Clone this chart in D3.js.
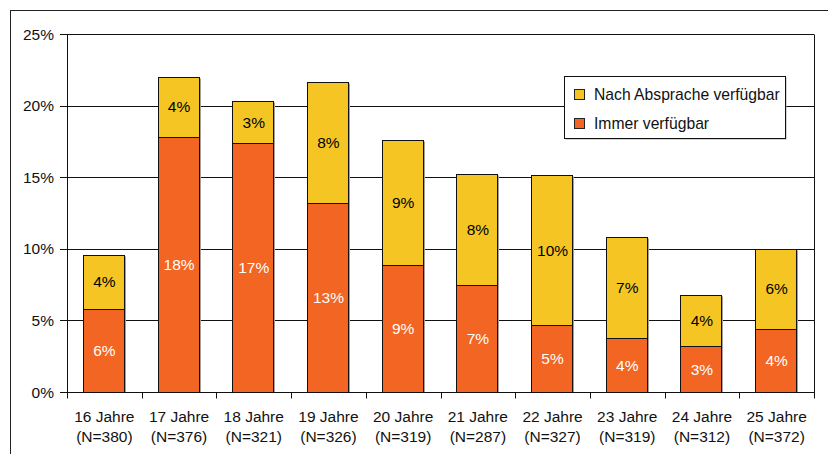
<html>
<head>
	<title>verfuegbar</title>
	<script type="text/javascript" src="https://cdnjs.cloudflare.com/ajax/libs/d3/7.8.5/d3.min.js"></script>
	<style>
		body {margin:0px; padding:0px; background:#fff; overflow:hidden;}
		svg text {font-family:"Liberation Sans", Arial, sans-serif;}
	</style>
</head>
<body>
	<svg id="chart" width="828" height="454"></svg>
	<script type="text/javascript">

		var categories = ["16 Jahre","17 Jahre","18 Jahre","19 Jahre","20 Jahre","21 Jahre","22 Jahre","23 Jahre","24 Jahre","25 Jahre"];
		var nLabels = ["(N=380)","(N=376)","(N=321)","(N=326)","(N=319)","(N=287)","(N=327)","(N=319)","(N=312)","(N=372)"];
		var immer = [5.8, 17.83, 17.37, 13.23, 8.89, 7.44, 4.66, 3.75, 3.22, 4.43];
		var nachAbsprache = [3.78, 4.2, 2.96, 8.45, 8.71, 7.76, 10.48, 7.09, 3.55, 5.59];
		var yTicks = [0, 5, 10, 15, 20, 25];
		var seriesNames = ["Nach Absprache verfügbar", "Immer verfügbar"];
		var colors = {immer:'#F26522', nach:'#F5C623'};
		var fs = 15.5;

		var svg = d3.select('#chart');

		// outer frame
		svg.append('rect').attr('x', 10.5).attr('y', 10.5).attr('width', 900).attr('height', 900)
			.attr('fill', 'none').attr('stroke', '#222').attr('stroke-width', 1);

		var plotL = 67, plotR = 814, plotT = 34, plotB = 392;

		var x = d3.scaleBand().domain(categories).range([plotL, plotR]).paddingInner(0.45).paddingOuter(0.225);
		var y = d3.scaleLinear().domain([0, 25]).range([plotB, plotT]);
		var step = x.step();

		function cy(v) {return Math.round(y(v)) + 0.5;}

		// gridlines
		svg.selectAll('line.grid').data(yTicks.filter(function(d){return d > 0}))
			.enter().append('line').attr('class', 'grid')
			.attr('x1', plotL).attr('x2', plotR)
			.attr('y1', function(d){return cy(d)}).attr('y2', function(d){return cy(d)})
			.attr('stroke', '#111').attr('stroke-width', 1);

		// right border of plot
		svg.append('line').attr('x1', plotR + 0.5).attr('x2', plotR + 0.5).attr('y1', cy(25)).attr('y2', cy(0))
			.attr('stroke', '#111');

		var data = categories.map(function(c, i) {
			return {cat:c, immer:immer[i], nach:nachAbsprache[i]};
		});

		// bar shadows
		var g = svg.append('g');
		g.selectAll('rect.shadow').data(data).enter().append('rect')
			.attr('x', function(d){return Math.round(x(d.cat)) + 1})
			.attr('y', function(d){return cy(d.immer + d.nach) + 1})
			.attr('width', Math.round(x.bandwidth()))
			.attr('height', function(d){return cy(0) - cy(d.immer + d.nach) - 1})
			.attr('fill', '#a0a0a0');

		g.selectAll('rect.immer').data(data).enter().append('rect').attr('class', 'immer')
			.attr('x', function(d){return Math.round(x(d.cat)) - 0.5})
			.attr('y', function(d){return cy(d.immer)})
			.attr('width', Math.round(x.bandwidth()))
			.attr('height', function(d){return cy(0) - cy(d.immer)})
			.attr('fill', colors.immer).attr('stroke', '#111').attr('stroke-width', 1);

		g.selectAll('rect.nach').data(data).enter().append('rect').attr('class', 'nach')
			.attr('x', function(d){return Math.round(x(d.cat)) - 0.5})
			.attr('y', function(d){return cy(d.immer + d.nach)})
			.attr('width', Math.round(x.bandwidth()))
			.attr('height', function(d){return cy(d.immer) - cy(d.immer + d.nach)})
			.attr('fill', colors.nach).attr('stroke', '#111').attr('stroke-width', 1);

		// value labels
		g.selectAll('text.immer').data(data).enter().append('text')
			.attr('x', function(d){return x(d.cat) + x.bandwidth()/2})
			.attr('y', function(d){return (y(0) + y(d.immer))/2})
			.attr('dy', '0.36em').attr('text-anchor', 'middle')
			.attr('font-size', fs).attr('fill', '#fff')
			.text(function(d){return Math.round(d.immer) + '%'});

		g.selectAll('text.nach').data(data).enter().append('text')
			.attr('x', function(d){return x(d.cat) + x.bandwidth()/2})
			.attr('y', function(d){return (y(d.immer) + y(d.immer + d.nach))/2})
			.attr('dy', '0.36em').attr('text-anchor', 'middle')
			.attr('font-size', fs).attr('fill', '#000')
			.text(function(d){return Math.round(d.nach) + '%'});

		// y axis
		svg.append('line').attr('x1', plotL + 0.5).attr('x2', plotL + 0.5).attr('y1', cy(25)).attr('y2', cy(0))
			.attr('stroke', '#111');
		svg.selectAll('line.ytick').data(yTicks).enter().append('line')
			.attr('x1', plotL - 7).attr('x2', plotL)
			.attr('y1', function(d){return cy(d)}).attr('y2', function(d){return cy(d)})
			.attr('stroke', '#111');
		svg.selectAll('text.ytick').data(yTicks).enter().append('text')
			.attr('x', 54).attr('y', function(d){return y(d)})
			.attr('dy', '0.36em').attr('text-anchor', 'end')
			.attr('font-size', fs).attr('fill', '#111')
			.text(function(d){return d + '%'});

		// x axis
		svg.append('line').attr('x1', plotL).attr('x2', plotR + 1).attr('y1', cy(0)).attr('y2', cy(0))
			.attr('stroke', '#111');
		svg.selectAll('line.xtick').data(d3.range(categories.length + 1)).enter().append('line')
			.attr('x1', function(d){return Math.round(plotL + d*step) + 0.5})
			.attr('x2', function(d){return Math.round(plotL + d*step) + 0.5})
			.attr('y1', cy(0)).attr('y2', cy(0) + 6)
			.attr('stroke', '#111');
		svg.selectAll('text.xcat').data(categories).enter().append('text')
			.attr('x', function(d){return x(d) + x.bandwidth()/2})
			.attr('y', 422).attr('text-anchor', 'middle')
			.attr('font-size', fs).attr('fill', '#111')
			.text(function(d){return d});
		svg.selectAll('text.xn').data(nLabels).enter().append('text')
			.attr('x', function(d, i){return x(categories[i]) + x.bandwidth()/2})
			.attr('y', 442).attr('text-anchor', 'middle')
			.attr('font-size', fs).attr('fill', '#111')
			.text(function(d){return d});

		// legend
		var lg = svg.append('g').attr('transform', 'translate(564,76)');
		lg.append('rect').attr('x', 1.5).attr('y', 1.5).attr('width', 221).attr('height', 62).attr('fill', '#aaa');
		lg.append('rect').attr('x', 0.5).attr('y', 0.5).attr('width', 221).attr('height', 62)
			.attr('fill', '#fff').attr('stroke', '#111');
		var legendColors = [colors.nach, colors.immer];
		seriesNames.forEach(function(name, i) {
			lg.append('rect').attr('x', 10.5).attr('y', 13.5 + i*29).attr('width', 10).attr('height', 10)
				.attr('fill', legendColors[i]).attr('stroke', '#222');
			lg.append('text').attr('x', 30).attr('y', 18.5 + i*29).attr('dy', '0.36em')
				.attr('font-size', 15.7).attr('fill', '#111').text(name);
		});

	</script>
</body>
</html>
